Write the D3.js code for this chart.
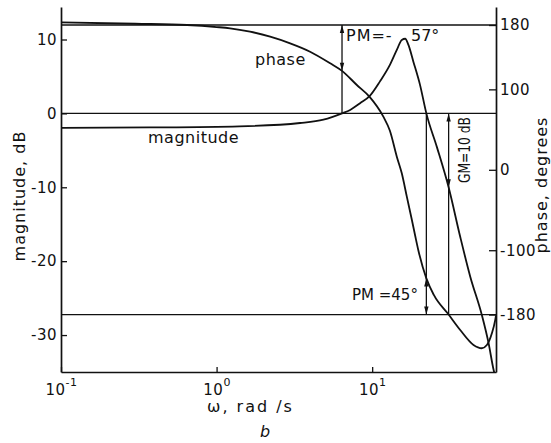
<!DOCTYPE html>
<html>
<head>
<meta charset="utf-8">
<script src="https://cdn.jsdelivr.net/npm/d3@7"></script>
<style>
  html, body { margin: 0; padding: 0; background: #fff; }
  svg { display: block; font-family: "DejaVu Sans", sans-serif; }
</style>
</head>
<body>
<svg id="chart" width="551" height="443"></svg>
<script>
// Open-loop frequency response: magnitude (dB) against frequency (rad/s)
const magFreq = [0.1, 0.37, 1.4, 3.44, 4.86, 6.4, 7.22, 8.36, 9.69, 11.2, 13.0, 14.4, 15.5, 16.3, 17.1, 18.4, 20.3, 22.3, 26.1, 31, 36.8, 42.7, 50.7, 56.0, 60.3, 61.6];
const magDb   = [-1.95, -1.9, -1.75, -1.3, -0.85, 0, 0.47, 1.38, 2.41, 4.3, 6.56, 8.59, 9.95, 10.1, 9.27, 7.0, 3.86, 0, -4.6, -10, -16.7, -22.1, -27.3, -31.1, -34.7, -35.5];

// Phase (degrees) against frequency (rad/s)
const phaseFreq = [0.1, 0.3, 0.646, 1.0, 1.221, 1.641, 2.21, 2.97, 3.99, 5.37, 6.4, 7.97, 9.6, 11.8, 13.0, 14.4, 15.5, 16.7, 18.0, 18.9, 19.8, 22.3, 24.9, 31, 36.8, 44.8, 50.6, 54.6, 58.8, 61.8, 62.5];
const phaseDeg  = [183.4, 181.6, 180, 177.5, 175.9, 171.7, 165.5, 157.2, 146.8, 132.4, 123, 105.4, 90.9, 66, 48.5, 16.3, -4.4, -33.4, -62.4, -82, -100, -135, -155.6, -180, -199.2, -217.8, -221.9, -217.8, -203.3, -186.7, -181];

// Axis ticks
const magTicks = [10, 0, -10, -20, -30];
const phaseTicks = [180, 100, 0, -100, -180];
const freqTicks = [0.1, 1, 10];
const freqTickExp = ["-1", "0", "1"];

// Stability margins and the frequencies where they are read
const pmLow = -57, wLow = 6.4;   // lower gain crossover
const pmHigh = 45, wGc = 22.3;   // upper gain crossover
const gm = 10, wPc = 31;         // phase crossover

const svg = d3.select("#chart");
const plotLeft = 61, plotRight = 496, plotTop = 7, plotBottom = 372;

const x = d3.scaleLog().domain([0.1, 62.5]).range([plotLeft, plotRight]);
const yMag = d3.scaleLinear().domain([-35, 14.4]).range([plotBottom, plotTop]);
const yPh = d3.scaleLinear().domain([-251.4, 202.4]).range([plotBottom, plotTop]);

svg.append("defs").append("clipPath").attr("id", "plot")
  .append("rect").attr("x", plotLeft).attr("y", plotTop)
  .attr("width", plotRight - plotLeft).attr("height", plotBottom - plotTop);

const ink = "#111";

// Reference levels: +180 deg, 0 dB, -180 deg
const refs = svg.append("g").attr("stroke", ink).attr("stroke-width", 1.3);
[yPh(180), yMag(0), yPh(-180)].forEach(yy => {
  refs.append("line").attr("x1", plotLeft).attr("x2", plotRight).attr("y1", yy).attr("y2", yy);
});

// Margin construction lines
const ann = svg.append("g").attr("stroke", ink).attr("stroke-width", 1.3);
ann.append("line").attr("x1", x(wLow)).attr("x2", x(wLow))
  .attr("y1", yPh(180)).attr("y2", yMag(0));
ann.append("line").attr("x1", x(wGc)).attr("x2", x(wGc))
  .attr("y1", yMag(0)).attr("y2", yPh(-180));
ann.append("line").attr("x1", x(wPc)).attr("x2", x(wPc))
  .attr("y1", yMag(0)).attr("y2", yPh(-180));

function arrowHead(xx, yTip, dir) {
  // dir = 1 points down, dir = -1 points up
  const len = 8, hw = 2.2;
  svg.append("path")
    .attr("d", `M${xx},${yTip} L${xx - hw},${yTip - dir * len} L${xx + hw},${yTip - dir * len} Z`)
    .attr("fill", ink);
}
// phase margin at the lower crossover: between the phase curve and +180
arrowHead(x(wLow), yPh(180), -1);
arrowHead(x(wLow), yPh(180 + pmLow), 1);
// phase margin at the upper crossover: between -180 and the phase curve
arrowHead(x(wGc), yPh(-180 + pmHigh), -1);
arrowHead(x(wGc), yPh(-180), 1);
// gain margin: from 0 dB down to the magnitude curve
arrowHead(x(wPc), yMag(0), -1);
arrowHead(x(wPc), yMag(-gm), 1);

// Curves
const curves = svg.append("g").attr("clip-path", "url(#plot)")
  .attr("fill", "none").attr("stroke", ink).attr("stroke-width", 1.8);
curves.append("path")
  .attr("d", d3.line().curve(d3.curveMonotoneX)
    .x((d, i) => x(magFreq[i])).y(d => yMag(d))(magDb));
curves.append("path")
  .attr("d", d3.line().curve(d3.curveMonotoneX)
    .x((d, i) => x(phaseFreq[i])).y(d => yPh(d))(phaseDeg));

// Axes
function styleAxis(g) {
  g.select(".domain").attr("stroke", ink).attr("stroke-width", 1.7);
  g.selectAll(".tick line").attr("stroke", ink).attr("stroke-width", 1.3);
  g.selectAll(".tick text").attr("fill", ink).attr("font-size", 15)
    .attr("font-family", "DejaVu Sans, sans-serif").attr("letter-spacing", 0.5);
}

svg.append("g").attr("transform", `translate(${plotLeft},0)`)
  .call(d3.axisLeft(yMag).tickValues(magTicks).tickSizeInner(-6).tickSizeOuter(0)
    .tickPadding(4).tickFormat(d => String(d)))
  .call(styleAxis);

svg.append("g").attr("transform", `translate(${plotRight},0)`)
  .call(d3.axisRight(yPh).tickValues(phaseTicks).tickSizeInner(-7).tickSizeOuter(0)
    .tickPadding(4).tickFormat(d => String(d)))
  .call(styleAxis);

const xAxis = svg.append("g").attr("transform", `translate(0,${plotBottom})`)
  .call(d3.axisBottom(x).tickValues(freqTicks).tickSizeInner(-5).tickSizeOuter(0)
    .tickPadding(12))
  .call(styleAxis);
xAxis.selectAll(".tick text").each(function(d, i) {
  const t = d3.select(this).text(null);
  t.append("tspan").text("10");
  t.append("tspan").attr("dy", -9).attr("font-size", 11).text(freqTickExp[i]);
});

// Titles and curve labels
function label(txt, attrs) {
  const t = svg.append("text").attr("fill", ink).attr("font-size", 16).text(txt);
  Object.entries(attrs).forEach(([k, v]) => t.attr(k, v));
  return t;
}
label("magnitude, dB", { transform: "translate(25,196) rotate(-90)", "text-anchor": "middle", "letter-spacing": 1 });
label("phase, degrees", { transform: "translate(547,185) rotate(-90)", "text-anchor": "middle", "letter-spacing": 1 });
label("ω, rad /s", { x: 207, y: 412, "letter-spacing": 2 });
label("b", { x: 265, y: 437, "text-anchor": "middle", "font-style": "italic" });
label("phase", { x: 255, y: 65, "letter-spacing": 0.5 });
label("magnitude", { x: 148, y: 143, "letter-spacing": 0.5 });

const pmLabel = svg.append("text").attr("fill", ink).attr("font-size", 16)
  .attr("x", 346).attr("y", 41);
pmLabel.append("tspan").attr("letter-spacing", 1).text("PM=-");
pmLabel.append("tspan").attr("x", 411).text(`${Math.abs(pmLow)}°`);

label(`PM =${pmHigh}°`, { x: 352, y: 300, "font-size": 15 });
label(`GM=${gm} dB`, { transform: "translate(470,183) rotate(-90)", "font-size": 15, textLength: 66, lengthAdjust: "spacingAndGlyphs" });
</script>
</body>
</html>
